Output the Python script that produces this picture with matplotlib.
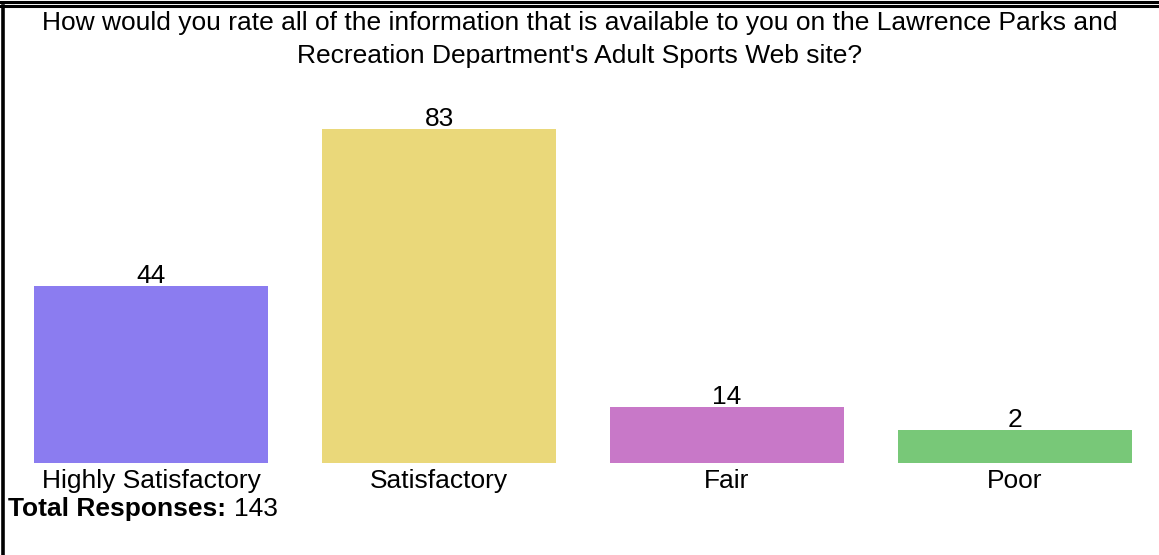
import matplotlib.pyplot as plt
import numpy as np
from matplotlib.lines import Line2D

categories = ["Highly Satisfactory", "Satisfactory", "Fair", "Poor"]
counts = [44, 83, 14, 2]
colors = ["#8B7CF0", "#EAD87A", "#C878C8", "#78C878"]
title = ("How would you rate all of the information that is available to you on the Lawrence Parks and\n"
         "Recreation Department's Adult Sports Web site?")
total = sum(counts)

W, H = 1159, 555
FS = 19
plt.rcParams["font.family"] = ["Liberation Sans", "DejaVu Sans"]
fig = plt.figure(figsize=(W / 100, H / 100), dpi=100)

# axes placed in pixel terms: bars sit on y=463, tallest bar reaches y=129
ax = fig.add_axes([7 / W, 1 - 463 / H, (1159 - 7) / W, (463 - 129) / H])
ax.set_xlim(-0.5, 3.5)
ax.set_ylim(0, max(counts))
ax.axis("off")

# the original chart keeps tiny bars visible with a minimum height
shown = np.maximum(counts, 8.2)
x = np.arange(len(categories))
ax.bar(x, shown, width=0.8125, color=colors)
for xi, h, c in zip(x, shown, counts):
    ax.annotate(str(c), (xi, h), xytext=(0, -1.5), textcoords="offset points",
                ha="center", va="bottom", fontsize=FS, annotation_clip=False)
for xi, name in zip(x, categories):
    ax.annotate(name, (xi, 0), xytext=(0, -4.5), textcoords="offset points",
                ha="center", va="top", fontsize=FS, annotation_clip=False)

fig.text(0.5, 1 - 39.5 / H, title, ha="center", va="center", fontsize=FS,
         linespacing=1.5)

# "Total Responses: 143" with bold caption
lab = fig.text(8 / W, 1 - 509 / H, "Total Responses:", fontsize=FS,
               fontweight="bold", ha="left", va="center")
fig.canvas.draw()
bb = lab.get_window_extent()
fig.text((bb.x1 + 8) / W, 1 - 509 / H, str(total), fontsize=FS,
         ha="left", va="center")

# frame lines: double rule along the top, single rule down the left
for y in (1.5, 6):
    fig.add_artist(Line2D([0, 1], [1 - y / H, 1 - y / H], color="black", lw=2.2,
                          transform=fig.transFigure))
fig.add_artist(Line2D([3 / W, 3 / W], [1 - 6 / H, 0], color="black", lw=2.6,
                      transform=fig.transFigure))

fig.savefig("out.png", dpi=100)
plt.close(fig)
